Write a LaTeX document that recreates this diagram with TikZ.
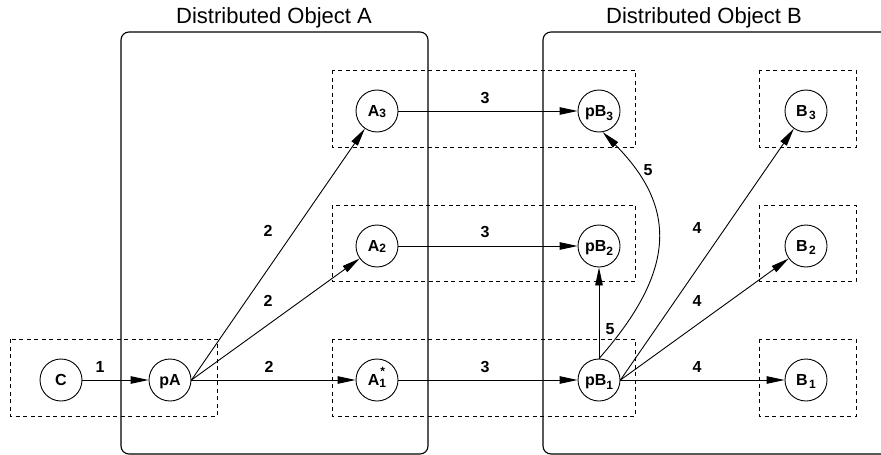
\documentclass[tikz,border=0pt]{standalone}
\usepackage{fontspec}
\setmainfont{Liberation Sans}
\usetikzlibrary{arrows.meta}
% lowered, smaller index digit inside a state label
\newcommand{\idx}[2]{\raisebox{-#1}{\fontsize{12}{12}\selectfont #2}}
\begin{document}
\begin{tikzpicture}[x=1pt,y=-1pt,
  grp/.style={draw, dash pattern=on 4pt off 3.5pt, line width=0.8pt},
  obj/.style={draw, line width=1.1pt, rounded corners=8pt},
  st/.style={circle, draw, line width=0.9pt, minimum size=42pt, inner sep=0pt,
    fill=white, font=\fontsize{16}{16}\selectfont\bfseries,
    text height=11.5pt, text depth=0pt},
  lbl/.style={inner sep=0pt, font=\fontsize{16}{16}\selectfont\bfseries,
    text height=11.5pt, text depth=0pt},
  ttl/.style={inner sep=0pt, font=\fontsize{22}{22}\selectfont,
    text height=15.8pt, text depth=0pt},
  arr/.style={-{Triangle[length=18pt,width=7.5pt]}, line width=0.9pt}]
\useasboundingbox (0,0) rectangle (881,455);

% dashed groups
\draw[grp] (10,339) rectangle (217,416);
\draw[grp] (332,70) rectangle (635,147);
\draw[grp] (332,205) rectangle (635,281);
\draw[grp] (332,339) rectangle (635,416);
\draw[grp] (759,70) rectangle (856,147);
\draw[grp] (759,205) rectangle (856,281);
\draw[grp] (759,339) rectangle (856,416);

% distributed objects
\draw[obj] (121,32) rectangle (428,454);
\draw[obj] (543,32) rectangle (910,454);
\node[ttl] (tA) at (274,16) {Distributed Object A};
\node[ttl] (tB) at (704,16) {Distributed Object B};

% states
\node[st] (C)   at (61,380)  {C};
\node[st] (pA)  at (170,380) {pA};
\node[st] (A1)  at (377,380) {A\idx{2pt}{1}\llap{\raisebox{10pt}{\fontsize{12}{12}\selectfont *}\kern1pt}};
\node[st] (A2)  at (377,246) {A\idx{1pt}{2}};
\node[st] (A3)  at (377,111) {A\idx{1pt}{3}};
\node[st] (pB1) at (599,380) {pB\idx{4pt}{1}};
\node[st] (pB2) at (599,246) {pB\idx{4pt}{2}};
\node[st] (pB3) at (599,111) {pB\idx{4pt}{3}};
\node[st] (B1)  at (806,380) {B\kern1.5pt\idx{2.5pt}{1}};
\node[st] (B2)  at (806,246) {B\kern1.5pt\idx{2.5pt}{2}};
\node[st] (B3)  at (806,111) {B\kern1.5pt\idx{2.5pt}{3}};

% messages
\draw[arr] (C) -- (pA);
\draw[arr] (pA.east) -- (A1);
\draw[arr] (pA.east) -- (A2);
\draw[arr] (pA.east) -- (A3);
\draw[arr] (A1) -- (pB1);
\draw[arr] (A2) -- (pB2);
\draw[arr] (A3) -- (pB3);
\draw[arr] (pB1.east) -- (B1);
\draw[arr] (pB1.east) -- (B2);
\draw[arr] (pB1.east) -- (B3);
\draw[arr] (pB1.north) -- (pB2.south);
\draw[arr] (pB1.north) .. controls (677,270) and (677,207) .. (pB3.-80);

% message order
\node[lbl] (l1)  at (100,367) {1};
\node[lbl] (l2a) at (269,367) {2};
\node[lbl] (l2b) at (268,301) {2};
\node[lbl] (l2c) at (268,231) {2};
\node[lbl] (l3a) at (485,367) {3};
\node[lbl] (l3b) at (485,232) {3};
\node[lbl] (l3c) at (485,98)  {3};
\node[lbl] (l4a) at (697,367) {4};
\node[lbl] (l4b) at (697,301) {4};
\node[lbl] (l4c) at (697,228) {4};
\node[lbl] (l5a) at (610,329) {5};
\node[lbl] (l5b) at (648,170) {5};
\end{tikzpicture}
\end{document}
